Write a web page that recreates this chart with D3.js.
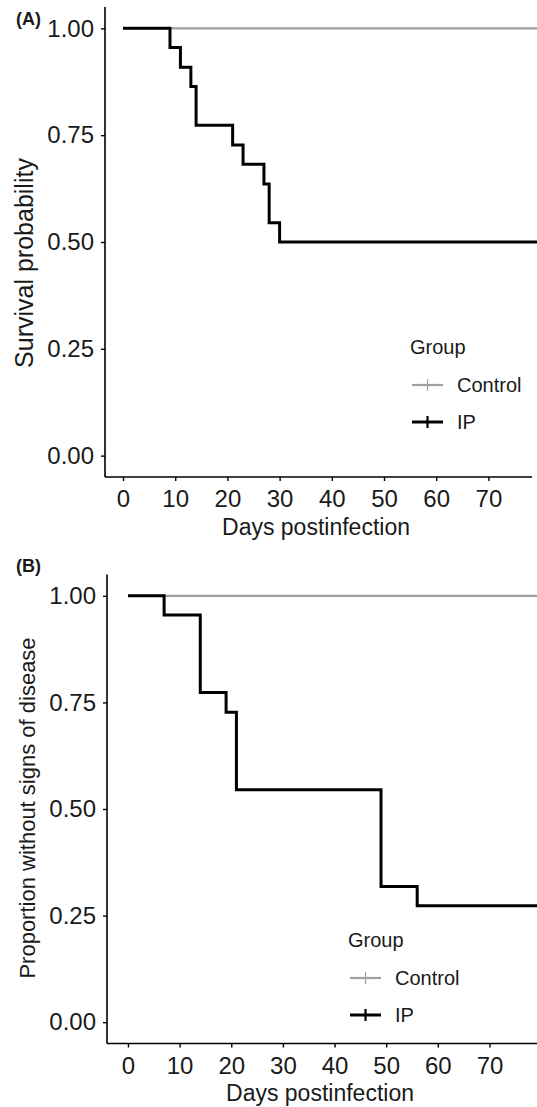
<!DOCTYPE html>
<html>
<head>
<meta charset="utf-8">
<script src="https://cdn.jsdelivr.net/npm/d3@7"></script>
<style>
html,body{margin:0;padding:0;background:#fff;}
svg{display:block;}
text{font-family:"Liberation Sans",Arial,Helvetica,sans-serif;fill:#1a1a1a;}
</style>
</head>
<body>
<svg id="chart" width="537" height="1107"></svg>
<script>
// ---- data ----
const groups = ["Control", "IP"];
const xTicks = [0, 10, 20, 30, 40, 50, 60, 70];
const yTicks = [0, 0.25, 0.5, 0.75, 1];

// Panel A: survival
const daysA_control = [0, 80];
const survA_control = [1, 1];
const daysA_ip = [0, 9, 11, 13, 14, 21, 23, 27, 28, 30, 80];
const survA_ip = [1, 0.955, 0.909, 0.864, 0.773, 0.727, 0.682, 0.636, 0.545, 0.5, 0.5];

// Panel B: proportion without signs of disease
const daysB_control = [0, 80];
const propB_control = [1, 1];
const daysB_ip = [0, 7, 14, 19, 21, 49, 56, 80];
const propB_ip = [1, 0.955, 0.773, 0.727, 0.545, 0.318, 0.273, 0.273];

const colors = {Control: "#a0a0a0", IP: "#000000"};
const widths = {Control: 2.2, IP: 3};

const svg = d3.select("#chart");

function panel(cfg) {
  const g = svg.append("g");
  const x = d3.scaleLinear().domain(cfg.xDomain).range(cfg.xRange);
  const y = d3.scaleLinear().domain([-0.05, 1.05]).range(cfg.yRange);

  // series
  const line = d3.line().x(d => x(d[0])).y(d => y(d[1])).curve(d3.curveStepAfter);
  cfg.series.forEach(s => {
    g.append("path")
      .datum(s.days.map((d, i) => [d, s.vals[i]]))
      .attr("fill", "none")
      .attr("stroke", colors[s.name])
      .attr("stroke-width", widths[s.name])
      .attr("stroke-linejoin", "miter")
      .attr("d", line);
  });

  // axes
  const ax = g.append("g")
    .attr("transform", `translate(0,${cfg.yRange[0]})`)
    .call(d3.axisBottom(x).tickValues(xTicks).tickSize(4).tickPadding(9).tickFormat(d3.format("d")));
  const ay = g.append("g")
    .attr("transform", `translate(${cfg.xRange[0]},0)`)
    .call(d3.axisLeft(y).tickValues(yTicks).tickSize(4).tickPadding(7).tickFormat(d3.format(".2f")));
  [ax, ay].forEach(a => {
    a.select(".domain").attr("stroke", "#000").attr("stroke-width", 1.6);
    a.selectAll(".tick line").attr("stroke", "#000").attr("stroke-width", 1.4);
    a.selectAll(".tick text").attr("font-size", 24).attr("fill", "#1a1a1a")
      .style("font-family", '"Liberation Sans",Arial,sans-serif');
  });
  ax.selectAll(".domain").attr("d", `M${cfg.xRange[0]},0H${cfg.xRange[1]}`);
  ay.selectAll(".domain").attr("d", `M0,${cfg.yRange[0]}V${cfg.yRange[1]}`);

  // axis titles
  g.append("text")
    .attr("x", cfg.xTitle[0]).attr("y", cfg.xTitle[1])
    .attr("text-anchor", "middle").attr("font-size", 23)
    .text("Days postinfection");
  g.append("text")
    .attr("transform", `translate(${cfg.yTitle[0]},${cfg.yTitle[1]}) rotate(-90)`)
    .attr("text-anchor", "middle").attr("font-size", cfg.yTitleSize)
    .text(cfg.yLabel);

  // panel tag
  g.append("text")
    .attr("x", 16).attr("y", cfg.tagY)
    .attr("font-size", 18).attr("font-weight", "bold")
    .text(cfg.tag);

  // legend
  const L = cfg.legend;
  g.append("text").attr("x", L.x).attr("y", L.y).attr("font-size", 20).text("Group");
  groups.forEach((name, i) => {
    const cy = L.y + 38 + i * 37;
    g.append("line")
      .attr("x1", L.x + 2).attr("x2", L.x + 33)
      .attr("y1", cy - 7).attr("y2", cy - 7)
      .attr("stroke", colors[name]).attr("stroke-width", widths[name]);
    g.append("line")
      .attr("x1", L.x + 17.5).attr("x2", L.x + 17.5)
      .attr("y1", cy - 13).attr("y2", cy - 1)
      .attr("stroke", colors[name]).attr("stroke-width", name === "IP" ? 2.2 : 1.2);
    g.append("text").attr("x", L.x + 47).attr("y", cy).attr("font-size", 20).text(name);
  });
}

panel({
  xDomain: [-3.45, 78.35], xRange: [105, 532],
  yRange: [477, 7],
  series: [
    {name: "Control", days: daysA_control, vals: survA_control},
    {name: "IP", days: daysA_ip, vals: survA_ip}
  ],
  xTitle: [316, 535], yTitle: [33, 263], yTitleSize: 25,
  yLabel: "Survival probability",
  tag: "(A)", tagY: 25,
  legend: {x: 410, y: 354}
});

panel({
  xDomain: [-4.06, 79.2], xRange: [107, 537],
  yRange: [1043.5, 574.5],
  series: [
    {name: "Control", days: daysB_control, vals: propB_control},
    {name: "IP", days: daysB_ip, vals: propB_ip}
  ],
  xTitle: [320, 1101], yTitle: [35, 808], yTitleSize: 22,
  yLabel: "Proportion without signs of disease",
  tag: "(B)", tagY: 572,
  legend: {x: 348, y: 947}
});
</script>
</body>
</html>
